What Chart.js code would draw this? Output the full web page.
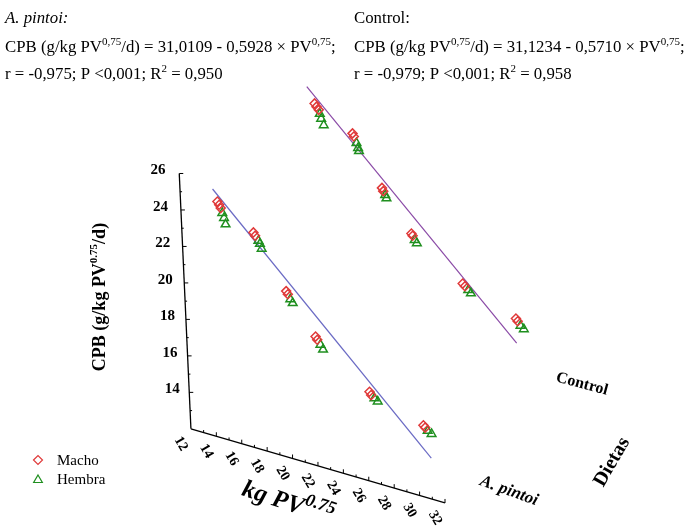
<!DOCTYPE html>
<html><head><meta charset="utf-8">
<script src="https://cdn.jsdelivr.net/npm/chart.js@4.4.0/dist/chart.umd.min.js"></script>
<style>html,body{margin:0;padding:0;background:#fff;}canvas{display:block;}</style>
</head><body>
<canvas id="c" width="684" height="528"></canvas>
<script>
// ---------- DATA ----------
const diets = ['A. pintoi', 'Control'];            // category axis (Dietas)
const dietIndex = [1, 2];
const xTicks = [12, 14, 16, 18, 20, 22, 24, 26, 28, 30, 32];   // kg PV^0.75
const yTicks = [14, 16, 18, 20, 22, 24, 26];                   // CPB

// A. pintoi
const apMachoX  = [13.10, 13.23, 13.34, 15.86, 15.98, 18.26, 18.38, 20.44, 20.56, 24.54, 24.66, 28.72, 28.85];
const apMachoY  = [23.54, 23.39, 23.23, 22.41, 22.25, 19.68, 19.53, 17.63, 17.48, 15.44, 15.28, 14.45, 14.35];
const apHembraX = [13.45, 13.57, 13.67, 16.23, 16.34, 16.46, 18.56, 18.74, 20.80, 20.99, 24.91, 25.16, 29.04, 29.34];
const apHembraY = [22.99, 22.74, 22.41, 22.03, 21.88, 21.64, 19.30, 19.12, 17.26, 17.03, 15.15, 15.03, 14.21, 14.10];
// Control
const ctMachoX  = [13.21, 13.35, 13.52, 16.13, 16.22, 18.28, 18.37, 20.46, 20.55, 24.37, 24.54, 28.49, 28.62];
const ctMachoY  = [23.97, 23.82, 23.68, 22.92, 22.77, 20.37, 20.21, 18.31, 18.21, 16.36, 16.25, 15.28, 15.16];
const ctHembraX = [13.59, 13.68, 13.86, 16.41, 16.52, 16.58, 18.51, 18.60, 20.70, 20.86, 24.79, 24.99, 28.83, 29.08];
const ctHembraY = [23.48, 23.23, 22.91, 22.45, 22.20, 22.04, 20.02, 19.86, 18.01, 17.86, 16.09, 15.95, 14.96, 14.82];
// fitted lines as drawn (end points)
const apLineX = [12.76, 29.23];
const apLineY = [24.16, 12.75];
const ctLineX = [12.65, 28.46];
const ctLineY = [24.78, 13.93];

// ---------- VIEW (oblique 3D projection) ----------
const O  = {x: 188, y: 433};
const EX = {x: 12.95, y: 3.8};
const EY = {x: -0.85, y: -18.7};
const EZ = {x: 98, y: -93};
const X0 = 12, Y0 = 12, Z0 = 0.77;
function P(x, y, z) {
  return {x: O.x + EX.x*(x-X0) + EY.x*(y-Y0) + EZ.x*(z-Z0),
          y: O.y + EX.y*(x-X0) + EY.y*(y-Y0) + EZ.y*(z-Z0)};
}
const pts = (xs, ys, z) => xs.map((v, i) => P(v, ys[i], z));

const RED = '#e03a3a', GREEN = '#1f8f1f';
const SERIF = "'Liberation Serif','Times New Roman',serif";

function rich(ctx, parts, x, y, size, weight, style, align, supScale) {
  const supSize = Math.round(size*(supScale || 0.68));
  const fontOf = (sup) => `${style||''} ${weight||''} ${sup?supSize:size}px ${SERIF}`;
  let w = 0;
  parts.forEach(p => { ctx.font = fontOf(p[1]); w += ctx.measureText(p[0]).width; });
  let cx = align === 'center' ? x - w/2 : x;
  ctx.textAlign = 'left'; ctx.textBaseline = 'alphabetic';
  parts.forEach(p => {
    ctx.font = fontOf(p[1]);
    ctx.fillText(p[0], cx, p[1] ? y - size*0.42 : y);
    cx += ctx.measureText(p[0]).width;
  });
}

const overlay = {
  id: 'overlay',
  beforeDatasetsDraw(chart) {
    const ctx = chart.ctx;
    const sx = chart.scales.x, sy = chart.scales.y;
    const pix = (x, y, z) => { const q = P(x, y, z); return {x: sx.getPixelForValue(q.x), y: sy.getPixelForValue(q.y)}; };
    ctx.save();
    ctx.strokeStyle = '#000'; ctx.fillStyle = '#000'; ctx.lineWidth = 1.3;
    const a = pix(12, 12, Z0), b = pix(12, 26, Z0), c = pix(32, 12, Z0);
    ctx.beginPath(); ctx.moveTo(a.x, a.y); ctx.lineTo(b.x, b.y); ctx.stroke();
    ctx.beginPath(); ctx.moveTo(a.x, a.y); ctx.lineTo(c.x, c.y); ctx.stroke();
    ctx.lineWidth = 1;
    for (let v = 13; v <= 26; v++) {
      const p = pix(12, v, Z0); const L = v % 2 === 0 ? 4 : 2;
      ctx.beginPath(); ctx.moveTo(p.x, p.y); ctx.lineTo(p.x + L, p.y); ctx.stroke();
    }
    for (let v = 13; v <= 32; v++) {
      const p = pix(v, 12, Z0); const L = v % 2 === 0 ? 4 : 2.5;
      ctx.beginPath(); ctx.moveTo(p.x, p.y); ctx.lineTo(p.x, p.y - L); ctx.stroke();
    }
    // y tick labels
    ctx.font = `bold 15px ${SERIF}`; ctx.textAlign = 'center'; ctx.textBaseline = 'middle';
    yTicks.forEach(v => { const p = pix(12, v, Z0); ctx.fillText(String(v), p.x - 17 - (v-14)*0.35, p.y - 3); });
    // x tick labels (rotated)
    xTicks.forEach(v => {
      const p = pix(v, 12, Z0);
      ctx.save(); ctx.translate(p.x - 10, p.y + 15); ctx.rotate(60*Math.PI/180);
      ctx.font = `bold 14px ${SERIF}`; ctx.textAlign = 'center'; ctx.textBaseline = 'middle';
      ctx.fillText(String(v), 0, 0); ctx.restore();
    });
    // x axis title
    ctx.save(); ctx.translate(288, 503); ctx.rotate(18*Math.PI/180);
    rich(ctx, [['kg PV', false], ['0.75', true]], 0, 7, 25, 'bold', 'italic', 'center', 0.7);
    ctx.restore();
    // y axis title
    ctx.save(); ctx.translate(105, 297); ctx.rotate(-Math.PI/2);
    rich(ctx, [['CPB (g/kg PV', false], ['0.75', true], ['/d)', false]], 0, 0, 18, 'bold', '', 'center', 0.62);
    ctx.restore();
    // diet labels
    const diLab = [{x: 509, y: 491, r: 20, it: 'italic', s: 17}, {x: 582, y: 384, r: 15, it: '', s: 16}];
    diets.forEach((d, i) => {
      const L = diLab[i];
      ctx.save(); ctx.translate(L.x, L.y); ctx.rotate(L.r*Math.PI/180);
      ctx.font = `${L.it} bold ${L.s}px ${SERIF}`; ctx.textAlign = 'center'; ctx.textBaseline = 'middle';
      ctx.fillText(d, 0, 0); ctx.restore();
    });
    ctx.save(); ctx.translate(612, 462); ctx.rotate(-60*Math.PI/180);
    ctx.font = `bold 20px ${SERIF}`; ctx.textAlign = 'center'; ctx.textBaseline = 'middle';
    ctx.fillText('Dietas', 0, 0); ctx.restore();

    // header equations
    ctx.fillStyle = '#000';
    const HS = 16.8;
    rich(ctx, [['A. pintoi:', false]], 5, 23, HS, '', 'italic');
    rich(ctx, [['CPB (g/kg PV', false], ['0,75', true], ['/d) = 31,0109 - 0,5928 \u00d7 PV', false], ['0,75', true], [';', false]], 5, 52, HS, '', '');
    rich(ctx, [['r = -0,975; P <0,001; R', false], ['2', true], [' = 0,950', false]], 5, 79, HS, '', '');
    rich(ctx, [['Control:', false]], 354, 23, HS, '', '');
    rich(ctx, [['CPB (g/kg PV', false], ['0,75', true], ['/d) = 31,1234 - 0,5710 \u00d7 PV', false], ['0,75', true], [';', false]], 354, 52, HS, '', '');
    rich(ctx, [['r = -0,979; P <0,001; R', false], ['2', true], [' = 0,958', false]], 354, 79, HS, '', '');

    // legend
    ctx.lineWidth = 1.2;
    ctx.strokeStyle = RED; ctx.fillStyle = 'rgba(0,0,0,0)';
    Chart.helpers.drawPoint(ctx, {pointStyle: 'rectRot', radius: 4.5, borderWidth: 1.2}, 38, 460);
    ctx.strokeStyle = GREEN;
    Chart.helpers.drawPoint(ctx, {pointStyle: 'triangle', radius: 5, borderWidth: 1.2}, 38, 480);
    ctx.fillStyle = '#000'; ctx.font = `15px ${SERIF}`; ctx.textAlign = 'left'; ctx.textBaseline = 'middle';
    ctx.fillText('Macho', 57, 461); ctx.fillText('Hembra', 57, 480);
    ctx.restore();
  }
};

const mk = (label, data, style, color, r) => ({
  label, data, pointStyle: style, pointRadius: r, pointHoverRadius: r,
  borderColor: color, backgroundColor: 'rgba(0,0,0,0)', pointBorderWidth: 1.5, showLine: false, order: 1, clip: false
});
const ln = (label, data, color) => ({
  label, data, showLine: true, pointRadius: 0, borderColor: color, borderWidth: 1.2, order: 2, clip: false, fill: false
});

new Chart(document.getElementById('c'), {
  type: 'scatter',
  data: {
    datasets: [
      mk('A. pintoi Macho', pts(apMachoX, apMachoY, dietIndex[0]), 'rectRot', RED, 4.5),
      mk('A. pintoi Hembra', pts(apHembraX, apHembraY, dietIndex[0]), 'triangle', GREEN, 5),
      mk('Control Macho', pts(ctMachoX, ctMachoY, dietIndex[1]), 'rectRot', RED, 4.5),
      mk('Control Hembra', pts(ctHembraX, ctHembraY, dietIndex[1]), 'triangle', GREEN, 5),
      ln('A. pintoi ajuste', pts(apLineX, apLineY, dietIndex[0]), '#6b6bc4'),
      ln('Control ajuste', pts(ctLineX, ctLineY, dietIndex[1]), '#8a4aa6')
    ]
  },
  options: {
    responsive: false, animation: false, devicePixelRatio: 1,
    layout: {padding: 0},
    plugins: {legend: {display: false}, tooltip: {enabled: false}},
    scales: {
      x: {type: 'linear', min: 0, max: 684, display: false},
      y: {type: 'linear', min: 0, max: 528, reverse: true, display: false}
    }
  },
  plugins: [overlay]
});
</script>
</body></html>
